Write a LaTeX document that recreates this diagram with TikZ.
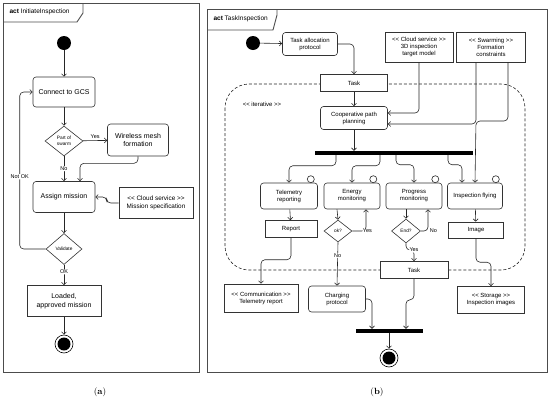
\documentclass[tikz,border=0pt]{standalone}
\usepackage{fontspec}
\newfontfamily\lsans{Liberation Sans}
\usetikzlibrary{arrows.meta,shapes.geometric}
\newcommand{\stereo}[1]{<\kern0pt< #1 >\kern0pt>}

\begin{document}
\begin{tikzpicture}[x=1pt, y=-1pt,
  act/.style={draw=black!80, fill=white, rounded corners=3pt, align=center,
              inner sep=1pt, line width=0.6pt, font=\lsans\fontsize{6}{7}\selectfont},
  obj/.style={draw=black!80, fill=white, align=center,
              inner sep=1pt, line width=0.6pt, font=\lsans\fontsize{6}{7}\selectfont},
  big/.style={font=\lsans\fontsize{7}{8.5}\selectfont},
  dec/.style={draw=black!80, fill=white, diamond, inner sep=0pt, align=center,
              line width=0.6pt, font=\lsans\fontsize{4.8}{5.5}\selectfont},
  bar/.style={fill=black, inner sep=0pt, minimum height=4pt},
  initnode/.style={circle, fill=black, minimum size=14pt, inner sep=0pt},
  finalnode/.style={circle, draw=black, fill=white, line width=0.6pt, minimum size=18pt,
              inner sep=0pt, path picture={\fill[black] (path picture bounding box.center) circle (6.5pt);}},
  arr/.style={-{Straight Barb[length=2.5pt,width=5pt]}, draw=black!85, line width=0.6pt,
              rounded corners=4pt},
  lbl/.style={font=\lsans\fontsize{5.5}{6}\selectfont, inner sep=0.6pt, fill=white},
  frame/.style={draw=black!70, line width=0.9pt},
  loopc/.style={draw=black!85, fill=white, line width=0.6pt}
]
  \useasboundingbox (0,0) rectangle (550,400);

  % ---------------- (a) InitiateInspection
  \draw[frame] (3,3) rectangle (199,372);
  \draw[frame] (3,22) -- (77,22) -- (83,13) -- (83,3);
  \node[anchor=west, font=\lsans\fontsize{6.5}{7}\selectfont] (ta) at (6,12)
    {\textbf{act} InitiateInspection};

  \node[initnode] (a0) at (64,43) {};
  \node[act, big, minimum width=62pt, minimum height=30pt] (gcs) at (64,92) {Connect to GCS};
  \node[dec, minimum width=38pt, minimum height=30pt] (swarm) at (64,141) {Part of\\swarm};
  \node[act, big, minimum width=61pt, minimum height=32pt] (mesh) at (138,140) {Wireless mesh\\formation};
  \node[act, big, minimum width=62pt, minimum height=31pt] (assign) at (64,197) {Assign mission};
  \node[obj, minimum width=74pt, minimum height=31pt, font=\lsans\fontsize{6.4}{8}\selectfont]
    (spec) at (156,203) {\stereo{Cloud service}\\Mission specification};
  \node[dec, minimum width=36pt, minimum height=31pt] (valid) at (64,249) {Validate};
  \node[obj, big, minimum width=74pt, minimum height=31pt] (loaded) at (64,301) {Loaded,\\approved mission};
  \node[finalnode] (a1) at (64,344) {};

  \draw[arr] (a0) -- (gcs);
  \draw[arr] (gcs) -- (swarm);
  \draw[arr] (swarm) -- node[lbl, above=1pt]{Yes} (mesh);
  \draw[arr] (swarm) -- node[lbl]{No} (assign);
  \draw[arr] (mesh.south) -- ++(0,7) -| ([xshift=16pt]assign.north);
  \draw[arr] (spec.west) -- ++(-12,0) |- (assign.east);
  \draw[arr] (assign) -- (valid);
  \draw[arr] (valid.west) -| node[lbl, pos=0.73]{Not OK} ([xshift=-13pt]gcs.west) -- (gcs.west);
  \draw[arr] (valid) -- node[lbl, pos=0.35]{OK} (loaded);
  \draw[arr] (loaded) -- (a1);

  \node[font=\fontsize{9}{10}\selectfont] (capa) at (100,392) {(\textbf{a})};

  % ---------------- (b) TaskInspection
  \draw[frame] (207,9) rectangle (547,372);
  \draw[frame] (207,30) -- (273,30) -- (277,15) -- (277,9);
  \node[anchor=west, font=\lsans\fontsize{6.5}{7}\selectfont] (tb) at (210,19)
    {\textbf{act} TaskInspection};

  % iterative region
  \draw[densely dashed, draw=black!85, line width=0.6pt, rounded corners=24pt]
    (225,84) rectangle (525,270);
  \node[font=\lsans\fontsize{6}{7}\selectfont] (iter) at (262,104) {\stereo{iterative}};

  \node[initnode] (b0) at (253,43) {};
  \node[act, minimum width=55pt, minimum height=23pt] (alloc) at (310,44) {Task allocation\\protocol};
  \node[obj, minimum width=68pt, minimum height=30pt] (cloud) at (419,47)
    {\stereo{Cloud service}\\3D inspection\\target model};
  \node[obj, minimum width=69pt, minimum height=30pt] (form) at (491,47)
    {\stereo{Swarming}\\Formation\\constraints};
  \node[obj, minimum width=67pt, minimum height=17pt] (task1) at (354,83) {Task};
  \node[act, minimum width=67pt, minimum height=23pt] (coop) at (354,118) {Cooperative path\\planning};
  \node[bar, minimum width=158pt] (fork) at (394,153) {};

  \node[act, minimum width=57pt, minimum height=26pt] (tele) at (289,196) {Telemetry\\reporting};
  \node[act, minimum width=56pt, minimum height=26pt] (energy) at (352,196) {Energy\\monitoring};
  \node[act, minimum width=56pt, minimum height=26pt] (prog) at (414,196) {Progress\\monitoring};
  \node[act, minimum width=55pt, minimum height=26pt] (fly) at (475,196) {Inspection flying};
  \foreach \n in {tele,energy,prog,fly}
    \draw[loopc] ([xshift=-7pt,yshift=3.5pt]\n.north east) circle (3.5pt);

  \node[obj, minimum width=52pt, minimum height=17pt] (report) at (291,229) {Report};
  \node[dec, minimum width=28pt, minimum height=22pt] (ok) at (338,231) {ok?};
  \node[dec, minimum width=29pt, minimum height=24pt] (done) at (406,231) {End?};
  \node[obj, minimum width=55pt, minimum height=16pt] (img) at (476,230) {Image};
  \node[obj, minimum width=68pt, minimum height=17pt] (task2) at (414,270) {Task};

  \node[obj, minimum width=74pt, minimum height=28pt] (comm) at (261,298)
    {\stereo{Communication}\\Telemetry report};
  \node[act, minimum width=57pt, minimum height=26pt] (charge) at (337,299) {Charging\\protocol};
  \node[obj, minimum width=67pt, minimum height=27pt] (store) at (491,300)
    {\stereo{Storage}\\Inspection images};
  \node[bar, minimum width=67pt] (join) at (389,331) {};
  \node[finalnode] (b1) at (389,358) {};

  \draw[arr] (b0) -- (alloc);
  \draw[arr] (alloc.east) -| (task1.north);
  \draw[arr] (task1) -- (coop);
  \draw[arr] (cloud.south) |- ([yshift=5pt]coop.east);
  \draw[arr] ([xshift=-15pt]form.south) |- ([yshift=-6pt]coop.east);
  \draw[arr] ([xshift=17pt]form.south) |- ([xshift=1pt]fly.north |- 0,121) -- (fly.north);
  \draw[arr] (coop.south) -- (coop.south |- fork.north);

  \draw[arr] ([xshift=-58pt]fork.south) |- ([yshift=17pt]tele.north) -- (tele.north);
  \draw[arr] ([xshift=-14pt]fork.south) |- ([yshift=17pt]energy.north) -- (energy.north);
  \draw[arr] ([xshift=2pt]fork.south) |- ([yshift=18pt]prog.north) -- (prog.north);
  \draw[arr] ([xshift=54pt]fork.south) |- ([xshift=-13pt,yshift=18pt]fly.north) -- ([xshift=-13pt]fly.north);

  \draw[arr] (tele) -- (report);
  \draw[arr] (report.south) |- ([yshift=24pt]comm.north) -- (comm.north);
  \draw[arr] ([xshift=-15pt]energy.south) -- (ok.north);
  \draw[arr] (ok.east) -| node[lbl, pos=0.5, right=-4pt]{Yes} ([xshift=14pt]energy.south);
  \draw[arr] (ok.south) -- node[lbl, pos=0.3]{No} (charge.north);
  \draw[arr] ([xshift=-8pt]prog.south) -- (done.north);
  \draw[arr] (done.east) -| node[lbl, pos=0.5, right=1pt]{No} ([xshift=14pt]prog.south);
  \draw[arr] (done.south) |- (414,250) -- node[lbl, pos=0.01]{Yes} (task2.north);
  \draw[arr] (fly) -- (img);
  \draw[arr] (img.south) |- ([yshift=24pt]store.north) -- (store.north);

  \draw[arr] (charge.east) -| ([xshift=-17pt]join.north);
  \draw[arr] (task2.south) |- ([xshift=17pt,yshift=29pt]join.north) -- ([xshift=17pt]join.north);
  \draw[arr] (join) -- (b1);

  \node[font=\fontsize{9}{10}\selectfont] (capb) at (377,392) {(\textbf{b})};
\end{tikzpicture}
\end{document}
